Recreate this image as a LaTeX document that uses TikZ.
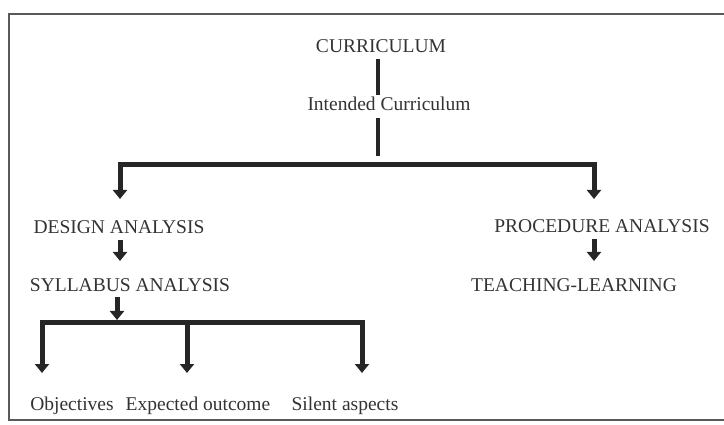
\documentclass[tikz,border=0pt]{standalone}
\usepackage{fontspec}
\setmainfont{Liberation Serif}
\usetikzlibrary{arrows.meta}
\begin{document}
\begin{tikzpicture}[x=1pt,y=-1pt,
  lbl/.style={inner sep=0pt, font=\fontsize{19.5}{22}\selectfont, text=black!80},
  vline/.style={line width=3.5pt, draw=black!85},
  bar/.style={line width=5pt, draw=black!85, line join=miter},
  arr/.style={bar, -{Triangle[width=14pt,length=9pt]}},
  arrtwo/.style={bar, {Triangle[width=14pt,length=9pt]}-{Triangle[width=14pt,length=9pt]}},
  frame/.style={draw=black!65, line width=1.5pt}]
\useasboundingbox (0,0) rectangle (724,425);
\draw[frame] (724,14) -- (9,14) -- (9,420) -- (724,420);

\node[lbl] (cur) at (381,46) {CURRICULUM};
\node[lbl] (int) at (389,104) {Intended Curriculum};
\node[lbl] (des) at (119,227) {DESIGN ANALYSIS};
\node[lbl] (pro) at (602,226) {PROCEDURE ANALYSIS};
\node[lbl] (syl) at (130,285) {SYLLABUS ANALYSIS};
\node[lbl] (tea) at (574,285) {TEACHING-LEARNING};
\node[lbl] (obj) at (72,406) {Objectives};
\node[lbl] (exp) at (198,406) {Expected outcome};
\node[lbl] (sil) at (345,406) {Silent aspects};

\coordinate (a1) at (378,59);
\coordinate (a2) at (378,95);
\coordinate (a3) at (378,118);
\coordinate (j1) at (378,156);
\coordinate (b1) at (378,165);
\coordinate (tL) at (120,199);
\coordinate (tR) at (594,199);
\coordinate (j2) at (117,323);
\coordinate (o1) at (42,373);
\coordinate (o2) at (187,373);
\coordinate (o3) at (362,373);

\draw[vline] (a1) -- (a2);
\draw[vline] (a3) -- (j1);
\draw[arrtwo] (tL) -- (tL |- b1) -- (tR |- b1) -- (tR);
\draw[arr] (des.south -| tL) ++(0,6) -- (120,261);
\draw[arr] (pro.south -| tR) ++(0,6) -- (594,261);
\draw[arr, shorten >=3pt] (syl.south -| j2) ++(0,5) -- (j2);
\draw[arrtwo] (o1) -- (o1 |- j2) -- (o3 |- j2) -- (o3);
\draw[arr] (o2 |- j2) -- (o2);
\end{tikzpicture}
\end{document}
